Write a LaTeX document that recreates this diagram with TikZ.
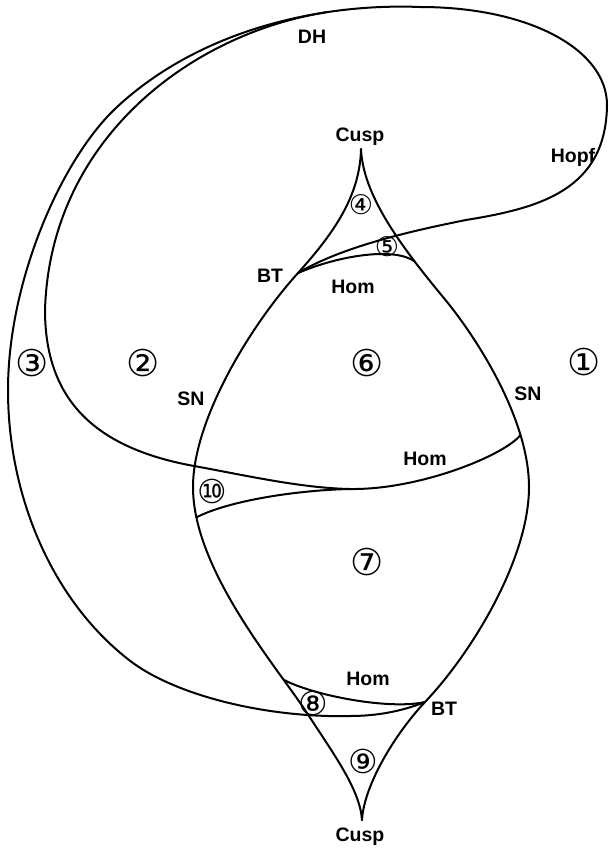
\documentclass[tikz,border=0pt]{standalone}
\usepackage{fontspec}
\setmainfont{Liberation Sans}
\newfontfamily\circfont{DejaVu Sans}
\begin{document}
\begin{tikzpicture}[x=1pt,y=-1pt,
  curve/.style={line width=2pt, line join=round, line cap=round},
  lab/.style={font=\fontsize{19.5}{19.5}\selectfont\bfseries, inner sep=0pt},
  reg/.style={font=\circfont\fontsize{37}{37}\selectfont, inner sep=0pt},
  regm/.style={font=\circfont\fontsize{33}{33}\selectfont, inner sep=0pt},
  regs/.style={font=\circfont\fontsize{27}{27}\selectfont, inner sep=0pt}]
\useasboundingbox (0,0) rectangle (609,851);

\coordinate (cuspT) at (361,149);
\coordinate (btU) at (298,273);
\coordinate (cuspB) at (362,820);
\coordinate (btL) at (425,702);
\coordinate (homM) at (350,489);

% left SN curve
\draw[curve] (cuspT) .. controls (360,195) and (335,232) .. (btU)
  .. controls (250,326) and (193,420) .. (193,487)
  .. controls (193,570) and (277,667) .. coordinate[pos=0.12] (snL) coordinate[pos=0.8] (homLs) (307,713)
  .. controls (335,756) and (360,790) .. (cuspB);

% right SN curve
\draw[curve] (cuspT) .. controls (363,195) and (400,245) .. coordinate[pos=0.77] (homUe) (443,297)
  .. controls (478,339) and (529,420) .. coordinate[pos=0.75] (snR) (529,487)
  .. controls (529,560) and (470,655) .. (btL)
  .. controls (395,734) and (364,785) .. (cuspB);

% Hopf / outer curve
\draw[curve] (btU) .. controls (343,246) and (416,230) .. (466,220)
  .. controls (540,208) and (606,190) .. (607,105)
  .. controls (607,50) and (530,7) .. (420,7)
  .. controls (320,3) and (200,30) .. coordinate[pos=0.3] (dh) (117,107)
  .. controls (62,158) and (8,280) .. (8,390)
  .. controls (8,500) and (55,605) .. (133,663)
  .. controls (180,697) and (270,718) .. (350,716)
  .. controls (385,716) and (410,708) .. (btL);

% inner curve (homoclinic)
\draw[curve] (dh) .. controls (190,34) and (50,140) .. (45,310)
  .. controls (45,400) and (95,448) .. (194,466)
  .. controls (244,475) and (300,488) .. (homM)
  .. controls (420,490) and (505,455) .. (snR);

% lower branch to left SN
\draw[curve] (homM) .. controls (300,490) and (230,500) .. (snL);

% upper Hom
\draw[curve] (btU) .. controls (340,255) and (395,247) .. (homUe);

% lower Hom
\draw[curve] (homLs) .. controls (315,696) and (390,710) .. (btL);

% labels
\node[lab] (tDH) at (312,37) {DH};
\node[lab] (tHopf) at (573,157) {Hopf};
\node[lab] (tCuspT) at (360,137) {Cusp};
\node[lab] (tBTU) at (270,276) {BT};
\node[lab] (tHomU) at (353,287) {Hom};
\node[lab] (tSNL) at (191,399) {SN};
\node[lab] (tSNR) at (528,394) {SN};
\node[lab] (tHomM) at (425,459) {Hom};
\node[lab] (tHomL) at (368,679) {Hom};
\node[lab] (tBTL) at (444,709) {BT};
\node[lab] (tCuspB) at (360,837) {Cusp};

\node[reg] (r1) at (584,362) {①};
\node[reg] (r2) at (143,363) {②};
\node[reg] (r3) at (32,363) {③};
\node[regs] (r4) at (361,205) {④};
\node[regs] (r5) at (387,247) {⑤};
\node[reg] (r6) at (367,363) {⑥};
\node[reg] (r7) at (367,562) {⑦};
\node[regm] (r8) at (313,703) {⑧};
\node[regm] (r9) at (363,761) {⑨};
\node[regm] (r10) at (212,491) {⑩};
\end{tikzpicture}
\end{document}
